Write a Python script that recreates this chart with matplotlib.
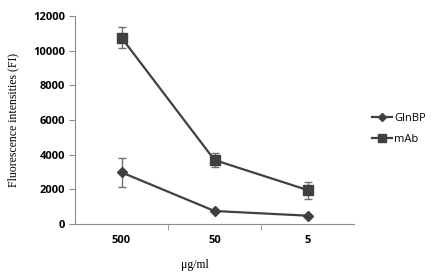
import matplotlib.pyplot as plt
from matplotlib.lines import Line2D

concentrations = ["500", "50", "5"]
glnbp = [2980, 750, 480]
glnbp_err = [850, 0, 0]
mab = [10750, 3690, 1960]
mab_err = [620, 430, 490]

line_color = "#404040"
axis_color = "#8c8c8c"

fig = plt.figure(figsize=(4.43, 2.73), dpi=100)
ax = fig.add_axes([75 / 443, 1 - 224 / 273, 279 / 443, 208 / 273])

x = range(len(concentrations))
ax.errorbar(x, glnbp, yerr=glnbp_err, color=line_color, lw=1.6, marker="D", ms=5,
            ecolor="#707070", elinewidth=1, capsize=3, capthick=1)
ax.errorbar(x, mab, yerr=mab_err, color=line_color, lw=1.6, marker="s", ms=7,
            ecolor="#707070", elinewidth=1, capsize=3, capthick=1)

ax.set_xlim(-0.5, 2.5)
ax.set_ylim(0, 12000)
ax.set_yticks(range(0, 12001, 2000))
ax.set_xticks(list(x))
ax.set_xticklabels(concentrations)
ax.set_xticks([0.5, 1.5], minor=True)
ax.tick_params(axis="x", which="major", length=0, pad=8)
ax.tick_params(axis="x", which="minor", length=4, color=axis_color)
ax.tick_params(axis="y", length=4, color=axis_color, pad=3)
for lab in ax.get_xticklabels() + ax.get_yticklabels():
    lab.set_fontfamily("Open Sans")
    lab.set_fontweight("bold")
    lab.set_fontsize(8)

for s in ["top", "right"]:
    ax.spines[s].set_visible(False)
for s in ["left", "bottom"]:
    ax.spines[s].set_color(axis_color)

ax.set_ylabel("Fluorescence intensities (FI)", fontfamily="Liberation Serif", fontsize=8.5)
ax.yaxis.set_label_coords(-0.2, 0.5)
ax.set_xlabel("μg/ml", fontfamily="Liberation Serif", fontsize=8.5)
ax.xaxis.set_label_coords(0.43, -0.17)

handles = [Line2D([], [], color=line_color, lw=1.6, marker="D", ms=4),
           Line2D([], [], color=line_color, lw=1.6, marker="s", ms=6)]
fig.legend(handles, ["GlnBP", "mAb"], loc="upper left", bbox_to_anchor=(362 / 443, 1 - 103 / 273),
           frameon=False, prop={"family": "Open Sans", "size": 8},
           handlelength=1.8, handletextpad=0.2, labelspacing=0.9)

fig.savefig("out.png", dpi=100)
